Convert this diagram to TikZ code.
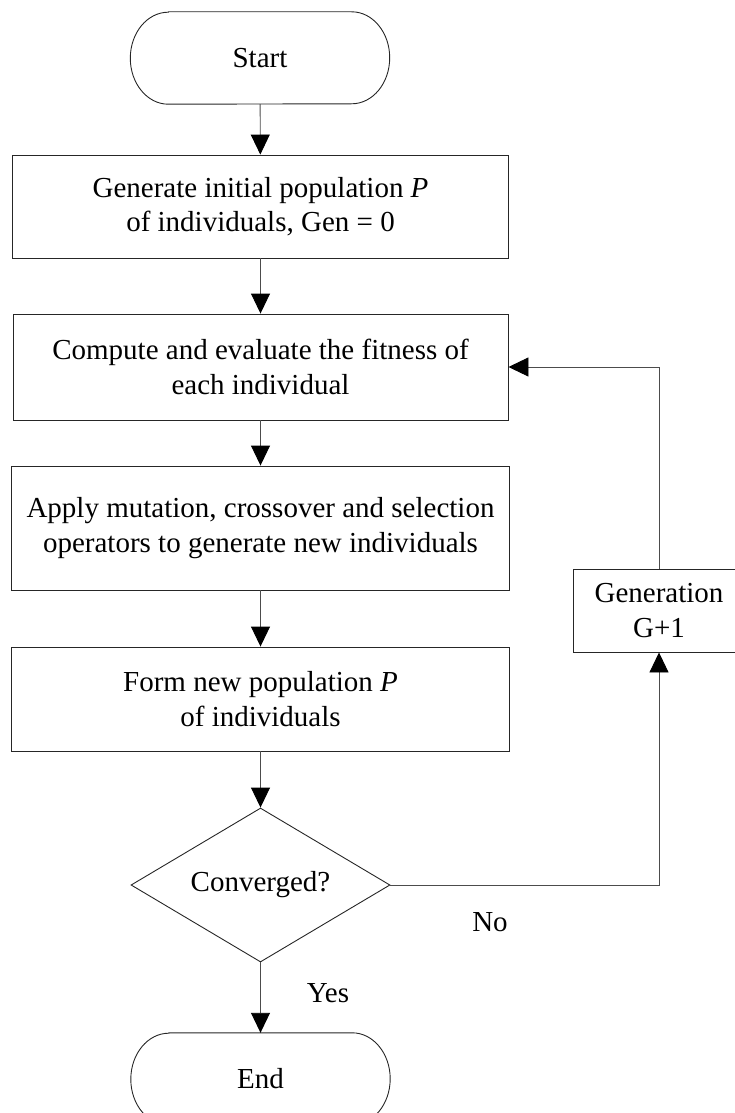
\documentclass[tikz,border=0pt]{standalone}
\usepackage{fontspec}
\setmainfont{Liberation Serif}
\usetikzlibrary{arrows.meta,shapes.geometric}
\begin{document}
\begin{tikzpicture}[x=1pt,y=-1pt,
  every node/.style={font=\fontsize{29}{34.5}\selectfont, text=black},
  box/.style={draw=black!85, line width=0.9pt, align=center, inner sep=0pt},
  term/.style={align=center, inner sep=0pt, minimum width=259pt, minimum height=92pt},
  termline/.style={draw=black!85, line width=0.9pt},
  conn/.style={draw=black!70, line width=0.9pt, -{Triangle[length=20pt,width=19pt,color=black]}}]
\useasboundingbox (0,0) rectangle (735,1113);
% Start
\node[term] (start) at (260,58) {Start};
\draw[termline] ([xshift=38pt]start.north west) -- ([xshift=-38pt]start.north east)
  arc[start angle=90, end angle=-90, x radius=38pt, y radius=46pt]
  -- ([xshift=38pt]start.south west)
  arc[start angle=270, end angle=90, x radius=38pt, y radius=46pt] -- cycle;
% Process boxes
\node[box, minimum width=496pt, minimum height=103pt] (b1) at (260.5,206.5)
  {Generate initial population \textit{P}\\ of individuals, Gen = 0};
\node[box, minimum width=495pt, minimum height=106pt] (b2) at (260.5,367)
  {Compute and evaluate the fitness of\\ each individual};
\node[box, minimum width=498pt, minimum height=124pt] (b3) at (260.5,528)
  {Apply mutation, crossover and selection\\ operators to generate new individuals};
\node[box, minimum width=498pt, minimum height=104pt] (b4) at (260.5,699)
  {Form new population \textit{P}\\ of individuals};
% Decision
\node[diamond, draw=black!85, line width=0.9pt, aspect=1.68, minimum width=259pt,
  minimum height=154pt, inner sep=0pt] (conv) at (260.5,885) {Converged?};
% End
\node[term] (end) at (260.5,1079) {End};
\draw[termline] ([xshift=38pt]end.north west) -- ([xshift=-38pt]end.north east)
  arc[start angle=90, end angle=-90, x radius=38pt, y radius=46pt]
  -- ([xshift=38pt]end.south west)
  arc[start angle=270, end angle=90, x radius=38pt, y radius=46pt] -- cycle;
% Generation box
\node[box, minimum width=172pt, minimum height=83pt] (gen) at (659,610.5)
  {Generation\\ G+1};
% Labels
\node (no) at (490,922) {No};
\node (yes) at (328,993) {Yes};
% Connectors
\draw[conn] (start) -- (b1);
\draw[conn] (b1) -- (b2);
\draw[conn] (b2) -- (b3);
\draw[conn] (b3) -- (b4);
\draw[conn] (b4) -- (conv);
\draw[conn] (conv) -- (end);
\draw[conn] (conv.east) -| (gen.south);
\draw[conn] (gen.north) |- (b2.east);
\end{tikzpicture}
\end{document}
